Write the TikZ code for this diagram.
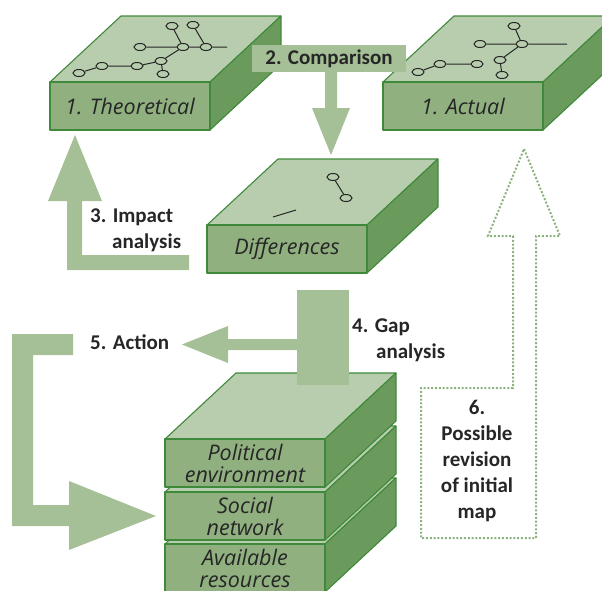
\documentclass[tikz,border=0pt]{standalone}
\usepackage{fontspec}
\setmainfont{Open Sans}
\newfontfamily\stepfont{Carlito}
\usetikzlibrary{shapes.geometric}

\definecolor{topgreen}{HTML}{B8CDAD}
\definecolor{frontgreen}{HTML}{90B07F}
\definecolor{sidegreen}{HTML}{6B9B5C}
\definecolor{edgegreen}{HTML}{3F8A3A}
\definecolor{arrowgreen}{HTML}{A5C096}
\definecolor{dotgreen}{HTML}{8DB27E}
\definecolor{inkgray}{HTML}{262626}

% slab: x and y of the front top left corner, node name, label
\newcommand{\slab}[4]{%
    \filldraw[boxedge,fill=topgreen] (#1,#2) -- ++(71,-66) -- ++(160,0) -- ++(-71,66) -- cycle;
    \filldraw[boxedge,fill=sidegreen] (#1+160,#2) -- ++(71,-66) -- ++(0,48) -- ++(-71,66) -- cycle;
    \filldraw[boxedge,fill=frontgreen] (#1,#2) rectangle ++(160,48);
    \node[boxlabel] (#3) at (#1+80,#2+24) {#4};}

\begin{document}
\begin{tikzpicture}[x=1pt,y=-1pt,
        boxedge/.style={draw=edgegreen,line width=1.1pt,line join=round},
        boxlabel/.style={font=\fontsize{21.5}{22}\selectfont\itshape,text=inkgray,align=center,inner sep=0pt},
        steplabel/.style={font=\stepfont\bfseries\fontsize{21}{26}\selectfont,text=inkgray,inner sep=0pt},
        blockarrow/.style={fill=arrowgreen},
        knot/.style={ellipse,draw=black!85,fill=topgreen,line width=1pt,minimum width=12pt,minimum height=7pt,inner sep=0pt},
        link/.style={draw=black!85,line width=1pt}]

    \clip (0,0) rectangle (602,590);

    % 3. Impact analysis
    \fill[blockarrow] (189,255) -- (189,270) -- (67,270) -- (67,201) -- (48,201)
        -- (75,135) -- (102,201) -- (82,201) -- (82,255) -- cycle;

    % 5. Action
    \fill[blockarrow] (73,334) -- (12,334) -- (12,526) -- (69,526) -- (69,550)
        -- (156,516) -- (69,481) -- (69,505) -- (33,505) -- (33,355) -- (73,355) -- cycle;

    % 6. Possible revision
    \draw[dotgreen,line width=2pt,dash pattern=on 2pt off 1.8pt]
        (524,149) -- (560,236) -- (536,236) -- (536,538) -- (421,538) -- (421,388)
        -- (513,388) -- (513,236) -- (488,236) -- cycle;

    % Boxes
    \slab{50}{82}{theory}{1. Theoretical}
    \slab{383}{82}{actual}{1. Actual}
    \slab{207}{225}{diff}{Differences}
    \slab{165}{544}{resources}{Available\\resources}
    \slab{165}{492}{social}{Social\\network}
    \slab{165}{439}{political}{Political\\environment}

    % 2. Comparison
    \fill[blockarrow] (325,72) -- (325,108) -- (312,108) -- (331,155) -- (350,108)
        -- (337,108) -- (337,72) -- cycle;
    \node[steplabel,fill=arrowgreen,minimum width=154pt,minimum height=27pt] (compare)
        at (329,58.5) {2. Comparison};

    % 4. Gap analysis
    \fill[blockarrow] (297,290) rectangle (349,385);
    \fill[blockarrow] (297,339) -- (228,339) -- (228,326) -- (182,344.5) -- (228,363)
        -- (228,350) -- (297,350) -- cycle;

    % Labels (base = last line)
    \node[steplabel,align=left,anchor=base west] (impact) at (90,248)
        {3. Impact\\\hspace*{22pt}analysis};
    \node[steplabel,align=left,anchor=base west] (gap) at (352,358)
        {4. Gap\\\hspace*{24pt}analysis};
    \node[steplabel,anchor=base west] (action) at (90,349) {5. Action};
    \node[steplabel,align=center,anchor=base] (revise) at (477,518)
        {6.\\Possible\\revision\\of initial\\map};

    % Theoretical map
    \node[knot] (t1) at (172,26) {};
    \node[knot] (t2) at (193,25) {};
    \node[knot] (t3) at (140,47) {};
    \node[knot] (t4) at (183,47) {};
    \node[knot] (t5) at (206,47) {};
    \node[knot] (t6) at (161,61) {};
    \node[knot] (t7) at (137,66) {};
    \node[knot] (t8) at (102,66) {};
    \node[knot] (t9) at (79,73) {};
    \node[knot] (t10) at (163,74) {};
    \coordinate (tend) at (227,47);
    \draw[link] (t1) -- (t4) (t2) -- (t5) (t3) -- (t4) -- (t5) -- (tend)
        (t4) -- (t6) -- (t7) -- (t8) -- (t9) (t6) -- (t10);

    % Actual map
    \node[knot] (a1) at (514,26) {};
    \node[knot] (a2) at (480,44) {};
    \node[knot] (a3) at (522,44) {};
    \node[knot] (a4) at (500,60) {};
    \node[knot] (a5) at (502,75) {};
    \node[knot] (a6) at (477,64) {};
    \node[knot] (a7) at (440,64) {};
    \node[knot] (a8) at (418,72) {};
    \coordinate (aend) at (567,44);
    \draw[link] (a1) -- (a3) (a2) -- (a3) -- (aend) (a3) -- (a4) -- (a5)
        (a6) -- (a7) -- (a8);

    % Differences map
    \node[knot] (d1) at (333,177) {};
    \node[knot] (d2) at (346,198) {};
    \coordinate (d3) at (273,217);
    \coordinate (d4) at (296,210);
    \draw[link] (d1) -- (d2) (d3) -- (d4);
\end{tikzpicture}
\end{document}
